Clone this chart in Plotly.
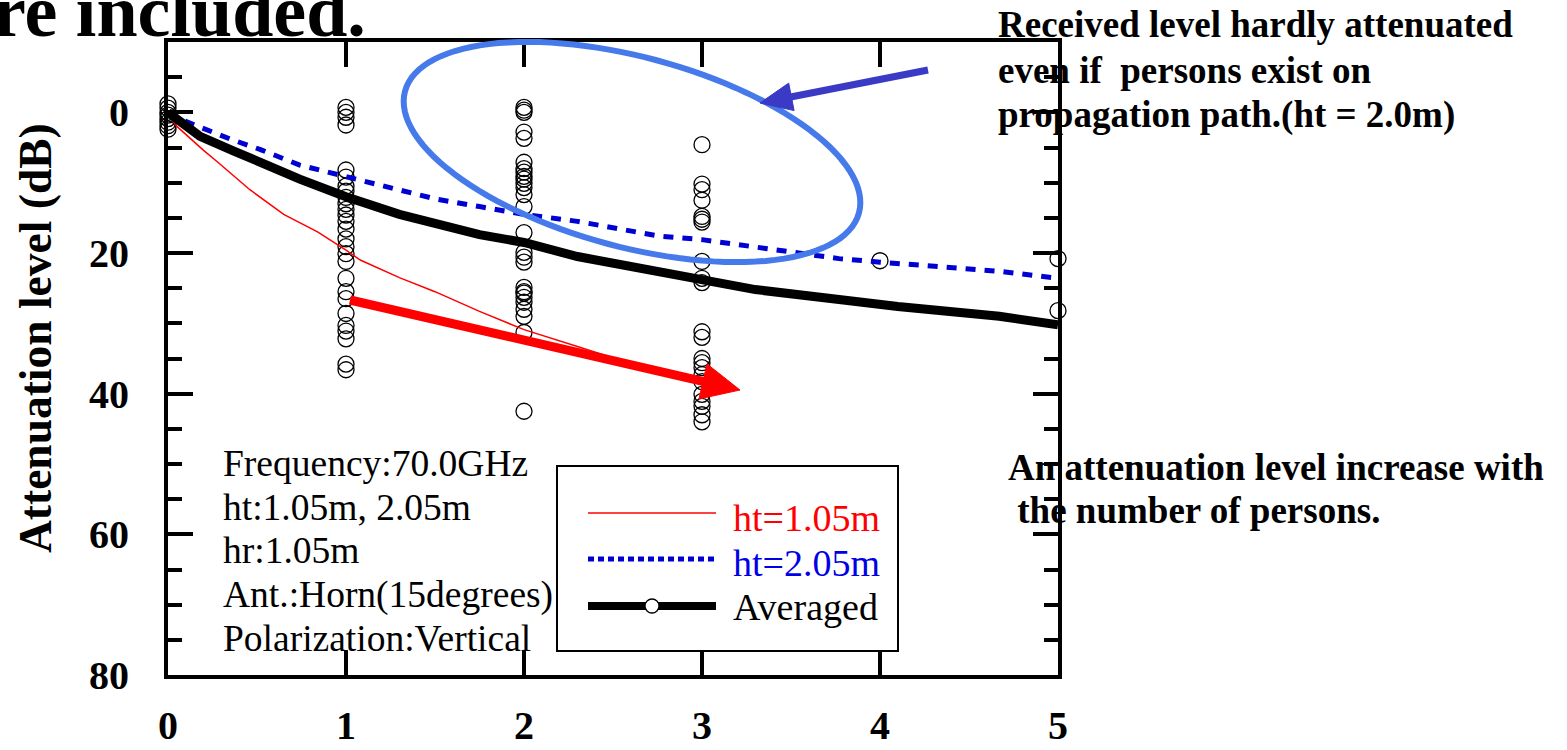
import math
import plotly.graph_objects as go

# ---- data: attenuation (dB) vs number of persons on the path ----
persons_ticks = [0, 1, 2, 3, 4, 5]
level_ticks = [0, 20, 40, 60, 80]

meas_0 = [-1.2, -0.6, 0.0, 0.4, 0.9, 1.4, 1.9, 2.4]
meas_1 = [-0.7, 0.0, 0.7, 1.8, 8.2, 9.2, 10.5, 11.2, 12.1, 13.0, 13.8, 14.6, 15.5,
          16.6, 18.0, 19.1, 20.1, 21.2, 23.6, 25.5, 26.5, 28.6, 30.3, 31.1, 32.2,
          35.8, 36.6]
meas_2 = [-0.7, -0.3, 0.0, 2.8, 3.7, 7.1, 8.0, 8.5, 9.1, 9.5, 10.1, 10.7, 11.7,
          13.4, 17.1, 19.9, 20.6, 21.3, 24.9, 25.5, 25.7, 26.3, 27.0, 28.0, 29.0,
          31.3, 42.5]
meas_3 = [4.6, 10.2, 11.0, 12.5, 14.8, 15.2, 15.6, 21.2, 23.6, 24.2, 31.2, 32.0,
          35.0, 35.6, 36.3, 37.3, 38.3, 40.1, 41.1, 41.8, 43.0, 44.0]
meas_4 = [21.1]
meas_5 = [20.8, 28.2]

red_x = [0.0, 0.02, 0.05, 0.12, 0.2, 0.28, 0.46, 0.65, 0.84, 1.0, 1.08, 1.3, 1.5,
         1.75, 2.0, 2.3, 2.55]
red_y = [0.0, 1.0, 2.0, 3.6, 5.4, 7.1, 11.0, 14.5, 17.0, 19.6, 21.0, 23.5, 25.5,
         28.3, 30.9, 33.3, 35.3]

blue_x = [0.0, 0.11, 0.35, 0.52, 0.74, 0.95, 1.2, 1.5, 1.75, 2.0, 2.3, 2.76, 3.0,
          3.3, 3.77, 4.0, 4.28, 4.67, 5.0]
blue_y = [0.0, 1.4, 3.8, 5.3, 7.5, 8.8, 10.5, 12.3, 13.4, 14.5, 15.5, 17.6, 18.1,
          19.2, 20.8, 21.3, 21.9, 22.6, 23.6]

avg_x = [0.0, 0.18, 0.37, 0.56, 0.74, 1.0, 1.3, 1.75, 2.0, 2.3, 2.76, 3.0, 3.3,
         3.77, 4.1, 4.67, 5.0]
avg_y = [0.0, 3.4, 5.5, 7.7, 9.5, 12.0, 14.5, 17.4, 18.5, 20.5, 22.8, 23.8, 25.2,
         26.6, 27.6, 29.0, 30.2]

info_lines = ["Frequency:70.0GHz", "ht:1.05m, 2.05m", "hr:1.05m",
              "Ant.:Horn(15degrees)", "Polarization:Vertical"]
legend_names = ["ht=1.05m", "ht=2.05m", "Averaged"]
note_top = ["Received level hardly attenuated",
            "even if\u00a0 persons exist on",
            "propagation path.(ht = 2.0m)"]
note_bottom = ["An attenuation level increase with",
               "\u00a0the number of persons."]

SERIF = "Liberation Serif, Times New Roman, serif"
W, H = 1567, 750
L, R, T, B = 168, 509, 42, 75
PW, PH = W - L - R, H - T - B


def pp(px, py):
    """pixel position -> paper coordinates"""
    return (px - L) / PW, 1 - (py - T) / PH


fig = go.Figure()

# individual measurements
mx, my = [], []
for n, vals in enumerate([meas_0, meas_1, meas_2, meas_3, meas_4, meas_5]):
    mx += [n] * len(vals)
    my += vals
fig.add_trace(go.Scatter(x=mx, y=my, mode="markers", cliponaxis=False,
                         marker=dict(symbol="circle-open", size=16, color="black",
                                     line=dict(width=1.3, color="black")),
                         showlegend=False, hoverinfo="skip"))

fig.add_trace(go.Scatter(x=red_x, y=red_y, mode="lines", showlegend=False,
                         line=dict(color="#ff0000", width=1.5)))
fig.add_trace(go.Scatter(x=blue_x, y=blue_y, mode="lines", showlegend=False,
                         line=dict(color="#0000d2", width=5, dash="10px,9px")))
fig.add_trace(go.Scatter(x=avg_x, y=avg_y, mode="lines", showlegend=False,
                         line=dict(color="black", width=9)))

shapes = []
annotations = []

# ellipse highlighting the ht=2.05m curve
cx, cy, a, b, th = 632, 152, 235, 95, math.radians(15)
pts = []
for k in range(121):
    t = 2 * math.pi * k / 120
    ex = cx + a * math.cos(t) * math.cos(th) - b * math.sin(t) * math.sin(th)
    ey = cy + a * math.cos(t) * math.sin(th) + b * math.sin(t) * math.cos(th)
    pts.append(pp(ex, ey))
path = "M " + " L ".join(f"{x:.5f},{y:.5f}" for x, y in pts) + " Z"
shapes.append(dict(type="path", path=path, xref="paper", yref="paper",
                   line=dict(color="#4679ea", width=6), layer="above"))


def arrow(tail, tip, color, width, head_len, head_half):
    dx, dy = tip[0] - tail[0], tip[1] - tail[1]
    d = math.hypot(dx, dy)
    ux, uy = dx / d, dy / d
    bx, by = tip[0] - head_len * ux, tip[1] - head_len * uy
    px_, py_ = -uy, ux
    x0, y0 = pp(*tail)
    x1, y1 = pp(bx + ux * 2, by + uy * 2)
    shapes.append(dict(type="line", xref="paper", yref="paper", x0=x0, y0=y0,
                       x1=x1, y1=y1, line=dict(color=color, width=width),
                       layer="above"))
    p1 = pp(*tip)
    p2 = pp(bx + head_half * px_, by + head_half * py_)
    p3 = pp(bx - head_half * px_, by - head_half * py_)
    shapes.append(dict(type="path", xref="paper", yref="paper",
                       path=f"M {p1[0]},{p1[1]} L {p2[0]},{p2[1]} L {p3[0]},{p3[1]} Z",
                       fillcolor=color, line=dict(color=color, width=1),
                       layer="above"))


arrow((928, 70), (760, 103), "#3a3ac6", 7, 32, 14)
arrow((350, 300), (740, 390), "#ff0000", 9, 38, 18)

# legend box drawn by hand
lx0, ly0 = pp(557, 466)
lx1, ly1 = pp(898, 651)
shapes.append(dict(type="rect", xref="paper", yref="paper", x0=lx0, y0=ly0,
                   x1=lx1, y1=ly1, line=dict(color="black", width=2),
                   fillcolor="white", layer="above"))
samples = [
    (513, dict(color="#ff0000", width=1.5)),
    (559, dict(color="#0000d2", width=5, dash="6px,4px")),
    (606, dict(color="black", width=8)),
]
for yy, ln in samples:
    x0, y0 = pp(588, yy)
    x1, _ = pp(716, yy)
    shapes.append(dict(type="line", xref="paper", yref="paper", x0=x0, y0=y0,
                       x1=x1, y1=y0, line=ln, layer="above"))
c0 = pp(645, 599)
c1 = pp(659, 613)
shapes.append(dict(type="circle", xref="paper", yref="paper", x0=c0[0], y0=c0[1],
                   x1=c1[0], y1=c1[1], fillcolor="white",
                   line=dict(color="black", width=1.3), layer="above"))
legend_colors = ["#ff0000", "#0000e6", "black"]
for name, col, yy in zip(legend_names, legend_colors, [518, 563, 607]):
    x, y = pp(731, yy)
    annotations.append(dict(text=name, x=x, y=y, xref="paper", yref="paper",
                            xanchor="left", yanchor="middle", showarrow=False,
                            font=dict(family=SERIF, size=38, color=col)))

# measurement conditions
for line, yy in zip(info_lines, [463, 507, 550, 595, 638]):
    x, y = pp(221, yy)
    annotations.append(dict(text=line, x=x, y=y, xref="paper", yref="paper",
                            xanchor="left", yanchor="middle", showarrow=False,
                            font=dict(family=SERIF, size=37.5, color="black")))

# notes on the right
for line, yy in zip(note_top, [25, 70, 115]):
    x, y = pp(996, yy)
    annotations.append(dict(text=line, x=x, y=y, xref="paper", yref="paper",
                            xanchor="left", yanchor="middle", showarrow=False,
                            font=dict(family=SERIF, size=37, color="black",
                                      weight="bold")))
for line, yy in zip(note_bottom, [467, 510]):
    x, y = pp(1006, yy)
    annotations.append(dict(text=line, x=x, y=y, xref="paper", yref="paper",
                            xanchor="left", yanchor="middle", showarrow=False,
                            font=dict(family=SERIF, size=37, color="black",
                                      weight="bold")))

# heading text cut by the top edge
x, y = pp(368, 54)
annotations.append(dict(text="re included.", x=x, y=y, xref="paper", yref="paper",
                        xanchor="right", yanchor="bottom", showarrow=False,
                        font=dict(family=SERIF, size=74, color="black",
                                  weight="bold")))

# y-axis title
x, y = pp(35, 338)
annotations.append(dict(text="Attenuation level (dB)", x=x, y=y, xref="paper",
                        yref="paper", xanchor="center", yanchor="middle",
                        textangle=-90, showarrow=False,
                        font=dict(family=SERIF, size=45.5, color="black",
                                  weight="bold")))

axis_common = dict(showline=True, linewidth=4, linecolor="black", mirror="allticks",
                   ticks="inside", ticklen=25, tickwidth=4, tickcolor="black",
                   showgrid=False, zeroline=False, automargin=False,
                   tickfont=dict(family=SERIF, size=40, color="black", weight="bold"))

fig.update_layout(
    width=W, height=H,
    margin=dict(l=L, r=R, t=T, b=B, pad=0, autoexpand=False),
    paper_bgcolor="white", plot_bgcolor="white",
    showlegend=False,
    xaxis=dict(range=[0, 5], tickvals=persons_ticks, ticklabelstandoff=12,
               **axis_common),
    yaxis=dict(range=[80, -10], tickvals=level_ticks, ticklabelstandoff=27,
               minor=dict(ticks="inside", ticklen=14, tickwidth=4, tickcolor="black",
                          dtick=5, tick0=0, showgrid=False),
               **axis_common),
    shapes=shapes,
    annotations=annotations,
)

fig.write_html("out.html")
